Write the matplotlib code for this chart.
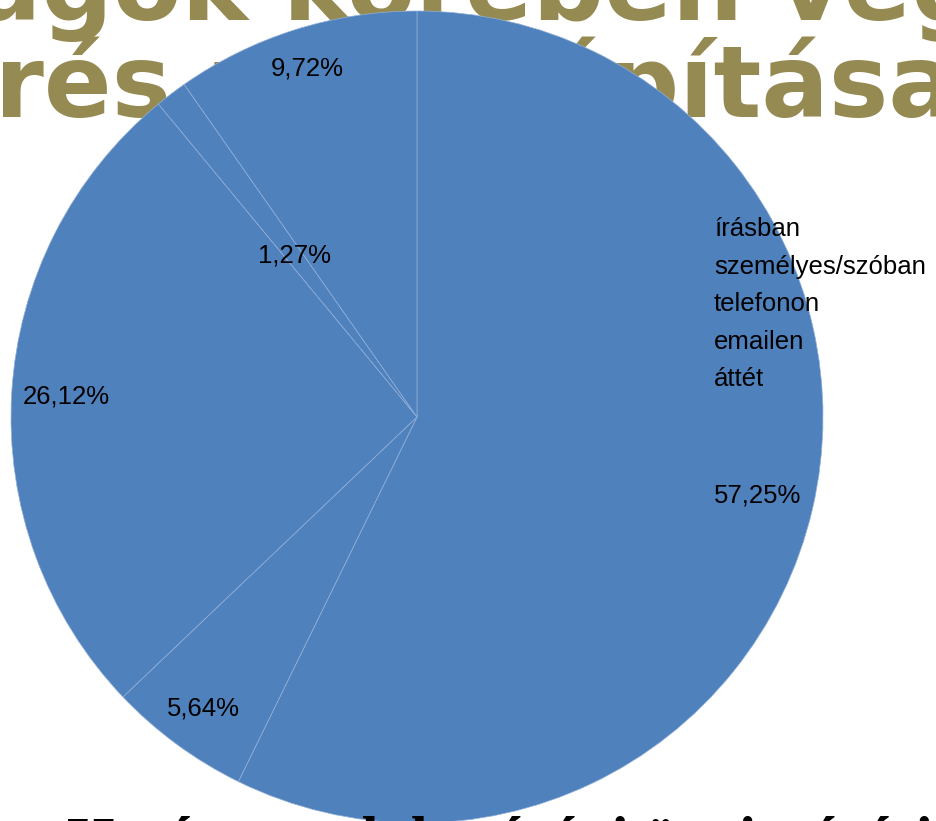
import matplotlib.pyplot as plt
import numpy as np

# adatok
kategoriak = ['írásban', 'személyes/szóban', 'telefonon', 'emailen', 'áttét']
ertekek = [57.25, 5.64, 26.12, 1.27, 9.72]
felirat_tav = [0.86, 0.89, 0.865, 0.5, 0.90]
kek = '#4F81BD'
olive = '#968A53'

W, H = 936, 821
fig = plt.figure(figsize=(W / 100, H / 100), dpi=100)

# hatter cim (a kor mogott)
cim_kw = dict(fontsize=72, fontweight='bold', family='DejaVu Sans',
              color=olive, va='baseline', zorder=-1)
fig.text(983 / W, 1 - 20 / H, 'hatóságok körében vég', ha='right', **cim_kw)
fig.text(-323 / W, 1 - 117 / H, 'felmérés m', ha='left', **cim_kw)
fig.text(957 / W, 1 - 117 / H, 'kiépítása', ha='right', **cim_kw)

# kor
ax = fig.add_axes([11 / W, (404 - 406) / H, 812 / W, 812 / H])
wedges, texts, autotexts = ax.pie(
    ertekek, colors=[kek] * len(ertekek), startangle=90, counterclock=False,
    autopct=lambda p: f'{p:.2f}%'.replace('.', ','), pctdistance=0.87,
    wedgeprops=dict(edgecolor='#93B0D8', linewidth=0.5),
    textprops=dict(fontsize=18.5, family='Liberation Sans', color='black'))
ax.set_xlim(-1, 1)
ax.set_ylim(-1, 1)
ax.patch.set_visible(False)

# feliratok tavolsaga a kozepponttol
for w, t, r in zip(wedges, autotexts, felirat_tav):
    szog = np.deg2rad((w.theta1 + w.theta2) / 2)
    t.set_position((r * np.cos(szog), r * np.sin(szog)))

# jelmagyarazat
leg = fig.legend(wedges, kategoriak, loc='upper left',
                 bbox_to_anchor=(714 / W, 1 - 217 / H), frameon=False,
                 handlelength=0, handletextpad=0, borderpad=0, borderaxespad=0,
                 labelspacing=0.53,
                 prop=dict(family='Liberation Sans', size=18.5))
for h in leg.legend_handles:
    h.set_visible(False)

# also szoveg
fig.text(67 / W, 1 - 859 / H, 'Határozatok hatósági ügyintézési ideje',
         ha='left', va='baseline', fontsize=44, fontweight='bold',
         family='Liberation Serif', color='black')

fig.savefig('out.png', dpi=100)
